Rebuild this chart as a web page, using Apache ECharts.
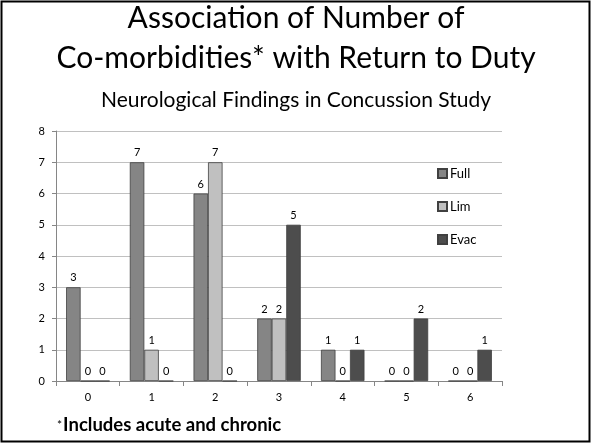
<!DOCTYPE html>
<html>
<head>
<meta charset="utf-8">
<script src="https://cdn.jsdelivr.net/npm/echarts@6/dist/echarts.min.js"></script>
<style>
  html, body { margin: 0; padding: 0; background: #fff; }
  #chart { width: 592px; height: 444px; }
</style>
</head>
<body>
<div id="chart"></div>
<script>
// Number of co-morbidities per patient
const categories = ['0', '1', '2', '3', '4', '5', '6'];
// Return-to-duty outcome counts
const fullDuty = [3, 7, 6, 2, 1, 0, 0];
const limitedDuty = [0, 1, 7, 2, 0, 0, 0];
const evacuated = [0, 0, 0, 5, 1, 2, 1];
const yTicks = { min: 0, max: 8, interval: 1 };

const FONT = 'Lato, "Open Sans", sans-serif';
const chart = echarts.init(document.getElementById('chart'), null, { renderer: 'canvas' });

function barSeries(name, data, color) {
  return {
    name: name,
    type: 'bar',
    data: data,
    barWidth: 14.5,
    barGap: '0%',
    itemStyle: { color: color, borderColor: '#404040', borderWidth: 0.8 },
    label: {
      show: true,
      position: 'top',
      distance: 4,
      color: '#000',
      fontFamily: FONT,
      fontSize: 11
    }
  };
}

function centeredText(text, y, size) {
  return {
    type: 'text',
    x: 296,
    y: y,
    silent: true,
    style: {
      text: text,
      align: 'center',
      verticalAlign: 'middle',
      fontFamily: FONT,
      fontSize: size,
      fill: '#000'
    }
  };
}

chart.setOption({
  backgroundColor: '#fff',
  animation: false,
  legend: {
    orient: 'vertical',
    left: 437,
    top: 167,
    padding: 0,
    itemWidth: 9,
    itemHeight: 9,
    itemGap: 20,
    icon: 'rect',
    textStyle: { fontFamily: FONT, fontSize: 13, color: '#000', padding: [0, 0, 0, -2] },
    data: ['Full', 'Lim', 'Evac']
  },
  grid: { left: 56, right: 90, top: 131, bottom: 63, containLabel: false },
  xAxis: {
    type: 'category',
    data: categories,
    axisLine: { lineStyle: { color: '#868686', width: 1 } },
    axisTick: { show: true, alignWithLabel: false, length: 5, lineStyle: { color: '#868686' } },
    axisLabel: { color: '#000', fontFamily: FONT, fontSize: 11, margin: 11 }
  },
  yAxis: {
    type: 'value',
    min: yTicks.min,
    max: yTicks.max,
    interval: yTicks.interval,
    axisLine: { show: true, lineStyle: { color: '#868686', width: 1 } },
    axisTick: { show: true, length: 4, lineStyle: { color: '#868686' } },
    axisLabel: { color: '#000', fontFamily: FONT, fontSize: 11, margin: 11 },
    splitLine: { show: true, lineStyle: { color: '#c0c0c0', width: 1 } }
  },
  series: [
    barSeries('Full', fullDuty, '#858585'),
    barSeries('Lim', limitedDuty, '#c0c0c0'),
    barSeries('Evac', evacuated, '#4d4d4d')
  ],
  graphic: [
    {
      type: 'rect',
      shape: { x: 1.5, y: 1.5, width: 588, height: 440 },
      style: { fill: 'none', stroke: '#000', lineWidth: 2 },
      silent: true
    },
    centeredText('Association of Number of', 18, 30),
    centeredText('Co-morbidities* with Return to Duty', 58, 30),
    centeredText('Neurological Findings in Concussion Study', 100, 21),
    {
      type: 'text',
      x: 57,
      y: 425,
      silent: true,
      style: {
        text: '{a|*}{b|Includes acute and chronic}',
        verticalAlign: 'middle',
        rich: {
          a: { fontFamily: FONT, fontSize: 12, fill: '#000', padding: [0, 1, 0, 0] },
          b: { fontFamily: FONT, fontSize: 18.5, fontWeight: 'bold', fill: '#000' }
        }
      }
    }
  ]
});
</script>
</body>
</html>
